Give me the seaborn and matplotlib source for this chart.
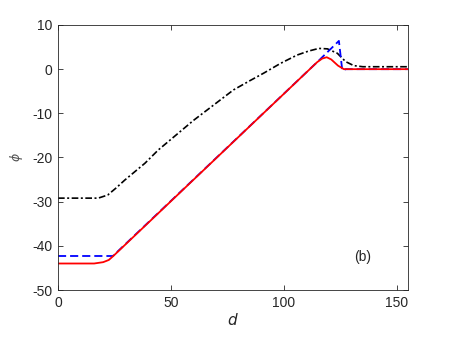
import matplotlib
matplotlib.use("Agg")
import matplotlib.pyplot as plt
import seaborn as sns
import numpy as np

# Data
black_d = [0, 17.8, 22, 25.5, 29.6, 38.5, 44.4, 60, 77.7, 85, 91.1, 98.5, 105.9, 111, 115.5, 119.3, 123.7, 127.4, 131, 135, 155]
black_phi = [-29.2, -29.2, -28.5, -27.0, -25.1, -21.3, -18.3, -11.6, -4.7, -2.6, -0.9, 1.3, 3.2, 4.1, 4.7, 4.6, 3.6, 1.7, 0.8, 0.55, 0.55]

red_d = [0, 16, 20, 22.5, 24.5, 114.8, 117, 119, 121, 124, 126.6, 155]
red_phi = [-44.0, -44.0, -43.7, -43.2, -42.3, 1.6, 2.4, 2.7, 2.2, 0.8, 0.0, 0.0]

blue_d = [0, 24.3, 115.5, 124.4, 125.9, 127.5, 155]
blue_phi = [-42.3, -42.3, 1.95, 6.4, -0.3, 0.0, 0.0]

xticks = [0, 50, 100, 150]
yticks = [-50, -40, -30, -20, -10, 0, 10]

sns.set_style("ticks")
plt.rcParams['font.family'] = ['Liberation Sans', 'DejaVu Sans']
plt.rcParams['axes.unicode_minus'] = False

fig = plt.figure(figsize=(4.5, 3.38), dpi=100)
ax = fig.add_axes([58/450, 48/338, 350/450, 265/338])

sns.lineplot(x=black_d, y=black_phi, ax=ax, color='black', lw=1.2,
             linestyle=(0, (4.0, 1.5, 1.2, 1.5)), sort=False, estimator=None)
sns.lineplot(x=blue_d, y=blue_phi, ax=ax, color='#0000ff', lw=1.3,
             linestyle=(0, (4.5, 2.2)), sort=False, estimator=None)
sns.lineplot(x=red_d, y=red_phi, ax=ax, color='#ff0000', lw=1.3,
             linestyle='-', sort=False, estimator=None)

ax.set_xlim(0, 155)
ax.set_ylim(-50, 10)
ax.set_xticks(xticks)
ax.set_yticks(yticks)
ax.tick_params(direction='in', length=3.5, width=0.6, colors='#262626',
               labelsize=10, top=True, right=True, pad=4)
for s in ax.spines.values():
    s.set_visible(True)
    s.set_color('#262626')
    s.set_linewidth(0.6)

ax.set_xlabel('$d$', fontsize=11, color='#262626', labelpad=2)
ax.set_ylabel(r'$\phi$', fontsize=9, color='#505050', labelpad=5)
ax.text(131, -42.5, '(b)', fontsize=10, color='#262626', va='center', ha='left')

fig.savefig('out.png', dpi=100)
